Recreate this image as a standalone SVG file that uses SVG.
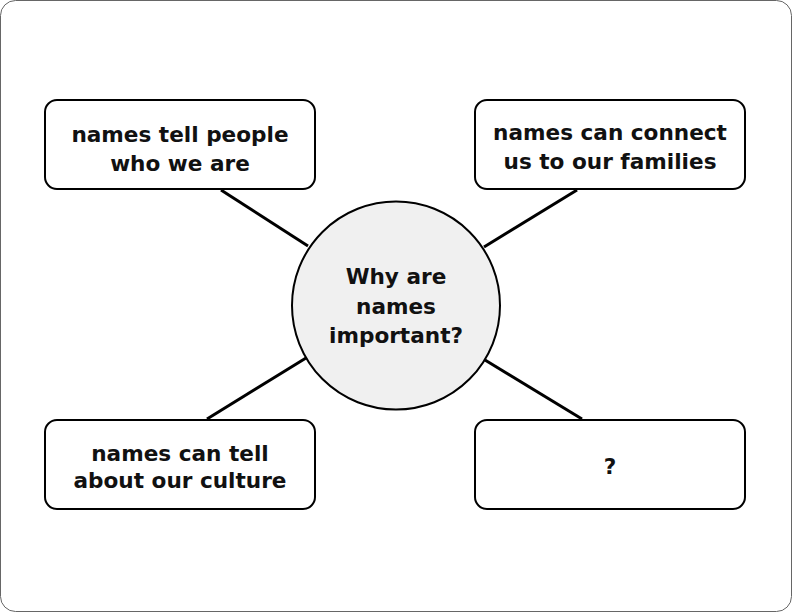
<svg xmlns="http://www.w3.org/2000/svg" width="792" height="612" viewBox="0 0 792 612">
<style>
.box{fill:#ffffff;stroke:#000000;stroke-width:2}
.hub{fill:#f0f0f0;stroke:#000000;stroke-width:2}
.t{font-family:"DejaVu Sans",sans-serif;font-weight:700;font-size:21.6px;fill:#111111;text-anchor:middle;dominant-baseline:central}
.c{stroke:#000000;stroke-width:3;fill:none}
</style>
<rect x="0.5" y="0.5" width="791" height="611" rx="15" fill="#ffffff" stroke="#666666" stroke-width="1"/>
<g id="connectors">
<line class="c" x1="221" y1="190" x2="308" y2="246"/>
<line class="c" x1="577" y1="190" x2="484" y2="247"/>
<line class="c" x1="207" y1="419" x2="306" y2="358"/>
<line class="c" x1="582" y1="419" x2="485" y2="360"/>
</g>
<g id="hub">
<circle class="hub" cx="396" cy="305.5" r="104"/>
<text class="t" x="396" y="276">Why are</text>
<text class="t" x="396" y="306">names</text>
<text class="t" x="396" y="335">important?</text>
</g>
<g id="n1">
<rect class="box" x="45" y="100" width="270" height="89" rx="12"/>
<text class="t" x="180" y="134">names tell people</text>
<text class="t" x="180" y="163">who we are</text>
</g>
<g id="n2">
<rect class="box" x="475" y="100" width="270" height="89" rx="12"/>
<text class="t" x="610" y="132">names can connect</text>
<text class="t" x="610" y="161">us to our families</text>
</g>
<g id="n3">
<rect class="box" x="45" y="420" width="270" height="89" rx="12"/>
<text class="t" x="180" y="453">names can tell</text>
<text class="t" x="180" y="480">about our culture</text>
</g>
<g id="n4">
<rect class="box" x="475" y="420" width="270" height="89" rx="12"/>
<text class="t" x="610" y="466">?</text>
</g>
</svg>
